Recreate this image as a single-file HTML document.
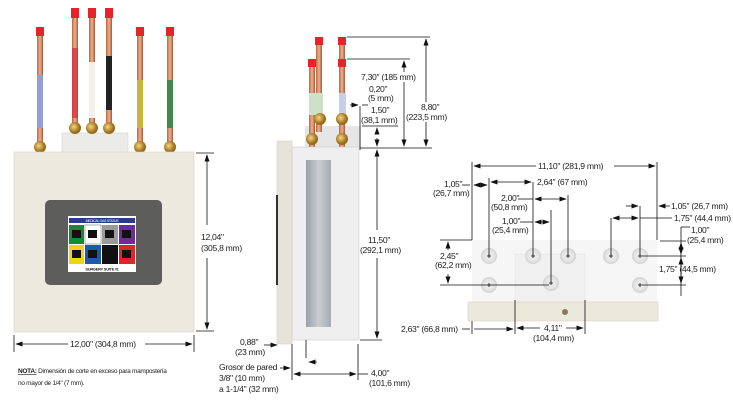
<!DOCTYPE html>
<html><head><meta charset="utf-8"><style>
html,body{margin:0;padding:0;background:#fff;}
svg{display:block;}
text{font-family:"Liberation Sans",sans-serif;font-size:8.6px;fill:#222;letter-spacing:-0.3px;}
.ln{stroke:#111;stroke-width:0.8;fill:none;}
</style></head><body>
<svg width="733" height="400" viewBox="0 0 733 400" xmlns="http://www.w3.org/2000/svg">
<defs>
<marker id="a" viewBox="0 0 10 10" refX="9" refY="5" markerWidth="10" markerHeight="9" orient="auto-start-reverse"><path d="M0,1.5L10,5L0,8.5z" fill="#111"/></marker>
<linearGradient id="cu" x1="0" x2="1"><stop offset="0" stop-color="#b8683f"/><stop offset=".5" stop-color="#f0b090"/><stop offset="1" stop-color="#a45a35"/></linearGradient>
<radialGradient id="br" cx=".4" cy=".4"><stop offset="0" stop-color="#f5d67a"/><stop offset="1" stop-color="#9a6a1a"/></radialGradient>
<radialGradient id="hole" cx=".5" cy=".5"><stop offset="0" stop-color="#f2f2f2"/><stop offset=".7" stop-color="#e3e3e3"/><stop offset="1" stop-color="#d0d0d0"/></radialGradient>
<linearGradient id="rail" x1="0" x2="1"><stop offset="0" stop-color="#9aa0a6"/><stop offset=".5" stop-color="#c9cdd1"/><stop offset="1" stop-color="#a6abb0"/></linearGradient>
</defs>

<g>
<rect x="62" y="133" width="66" height="20" fill="#ebebe9" stroke="#ccc" stroke-width=".5"/>
<rect x="37" y="27" width="6" height="118" fill="url(#cu)"/><rect x="36" y="27" width="8" height="9" fill="#e8222a"/>
<rect x="37" y="75" width="6" height="53" fill="#fff"/><rect x="37" y="75" width="6" height="53" fill="#3a4fb0" opacity=".55"/>
<rect x="72" y="8" width="6" height="125" fill="url(#cu)"/><rect x="71" y="8" width="8" height="10" fill="#e8222a"/>
<rect x="72" y="48" width="6" height="70" fill="#d8373a" opacity=".8"/>
<rect x="89" y="8" width="6" height="125" fill="url(#cu)"/><rect x="88" y="8" width="8" height="10" fill="#e8222a"/>
<rect x="89" y="62" width="6" height="56" fill="#f4f0ec"/>
<rect x="106" y="8" width="6" height="125" fill="url(#cu)"/><rect x="105" y="8" width="8" height="10" fill="#e8222a"/>
<rect x="106" y="56" width="6" height="54" fill="#222"/>
<rect x="137" y="27" width="6" height="118" fill="url(#cu)"/><rect x="136" y="27" width="8" height="9" fill="#e8222a"/>
<rect x="137" y="80" width="6" height="48" fill="#c7b43a"/>
<rect x="167" y="27" width="6" height="118" fill="url(#cu)"/><rect x="166" y="27" width="8" height="9" fill="#e8222a"/>
<rect x="167" y="80" width="6" height="48" fill="#3f8a4a"/>
<ellipse cx="40" cy="147" rx="6" ry="6" fill="url(#br)"/>
<ellipse cx="75" cy="128" rx="6" ry="6" fill="url(#br)"/>
<ellipse cx="92" cy="128" rx="6" ry="6" fill="url(#br)"/>
<ellipse cx="109" cy="128" rx="6" ry="6" fill="url(#br)"/>
<ellipse cx="140" cy="147" rx="6" ry="6" fill="url(#br)"/>
<ellipse cx="170" cy="147" rx="6" ry="6" fill="url(#br)"/>
</g>
<rect x="14" y="152" width="180" height="180" fill="#ece9df" stroke="#d8d4c8" stroke-width=".6"/>
<rect x="45" y="200" width="117" height="85" rx="5" fill="#5d5d5b"/>
<rect x="68" y="216" width="68" height="56" fill="#fff"/>
<rect x="69" y="218" width="66" height="5" fill="#2a3b8a"/>
<rect x="69" y="225" width="15" height="19" fill="#178a3a"/><rect x="85" y="225" width="16" height="19" fill="#fff" stroke="#333" stroke-width=".4"/><rect x="102" y="225" width="16" height="19" fill="#9a9a9a"/><rect x="119" y="225" width="16" height="19" fill="#6a2e9a"/>
<rect x="69" y="245" width="15" height="19" fill="#f0d21a"/><rect x="85" y="245" width="16" height="19" fill="#1d5aa8"/><rect x="102" y="245" width="16" height="19" fill="#111"/><rect x="119" y="245" width="16" height="19" fill="#e0242a"/>
<rect x="72" y="230" width="9" height="8" fill="#111"/><rect x="88" y="230" width="9" height="8" fill="#111"/><rect x="105" y="230" width="9" height="8" fill="#111"/><rect x="122" y="230" width="9" height="8" fill="#111"/>
<rect x="72" y="250" width="9" height="8" fill="#111"/><rect x="88" y="250" width="9" height="8" fill="#111"/><rect x="105" y="250" width="9" height="8" fill="#111"/><rect x="122" y="250" width="9" height="8" fill="#111"/>
<rect x="69" y="265" width="66" height="6" fill="#fff"/>
<text x="102" y="270.5" text-anchor="middle" style="font-size:4px;font-weight:bold">SURGERY SUITE #1</text>
<text x="102" y="222" text-anchor="middle" style="font-size:3.5px;fill:#fff">MEDICAL GAS STATUS</text>

<line class="ln" x1="196" y1="153" x2="214" y2="153"/><line class="ln" x1="196" y1="331" x2="214" y2="331"/>
<line class="ln" x1="207" y1="155" x2="207" y2="225" marker-start="url(#a)"/><line class="ln" x1="207" y1="258" x2="207" y2="329" marker-end="url(#a)"/>
<text x="201" y="240">12,04"</text><text x="201" y="251">(305,8 mm)</text>
<line class="ln" x1="14" y1="335" x2="14" y2="352"/><line class="ln" x1="194" y1="335" x2="194" y2="352"/>
<line class="ln" x1="16" y1="344" x2="68" y2="344" marker-start="url(#a)"/><line class="ln" x1="145" y1="344" x2="192" y2="344" marker-end="url(#a)"/>
<text x="70" y="347">12,00" (304,8 mm)</text>
<text x="18" y="373" style="font-size:6.5px"><tspan style="font-weight:bold;text-decoration:underline">NOTA:</tspan> Dimensión de corte en exceso para mampostería</text>
<text x="18" y="385" style="font-size:6.5px">no mayor de 1/4" (7 mm).</text>

<rect x="305" y="126" width="56" height="22" fill="#e6e6e6"/>
<rect x="316" y="37" width="6" height="95" fill="url(#cu)"/><rect x="315" y="37" width="8" height="8" fill="#e8222a"/>
<rect x="339" y="37" width="6" height="95" fill="url(#cu)"/><rect x="338" y="37" width="8" height="8" fill="#e8222a"/>
<rect x="309" y="59" width="6" height="90" fill="url(#cu)"/><rect x="308" y="59" width="8" height="8" fill="#e8222a"/>
<rect x="339" y="59" width="6" height="90" fill="url(#cu)"/><rect x="338" y="59" width="8" height="8" fill="#e8222a"/>
<rect x="309" y="93" width="14" height="22" fill="#cfe0c8"/><rect x="339" y="93" width="7" height="22" fill="#c9cfe6"/>
<ellipse cx="320" cy="119" rx="6" ry="6" fill="url(#br)"/><ellipse cx="342" cy="119" rx="6" ry="6" fill="url(#br)"/>
<ellipse cx="312" cy="139" rx="6" ry="6" fill="url(#br)"/><ellipse cx="342" cy="139" rx="6" ry="6" fill="url(#br)"/>
<rect x="292" y="147" width="67" height="193" fill="#efefef" stroke="#ccc" stroke-width=".6"/>
<rect x="306" y="160" width="25" height="167" fill="url(#rail)"/>
<rect x="277" y="141" width="15" height="203" fill="#e6e3d8" stroke="#cfcbbd" stroke-width=".5"/>
<rect x="276" y="195" width="2" height="90" fill="#333"/>
<line class="ln" x1="347" y1="37" x2="430" y2="37"/><line class="ln" x1="347" y1="59" x2="410" y2="59"/>
<line class="ln" x1="360" y1="148" x2="432" y2="148"/>
<line class="ln" x1="426" y1="39" x2="426" y2="102" marker-start="url(#a)"/><line class="ln" x1="426" y1="122" x2="426" y2="146" marker-end="url(#a)"/>
<text x="421" y="110">8,80"</text><text x="406" y="120">(223,5 mm)</text>
<line class="ln" x1="404" y1="61" x2="404" y2="72" marker-start="url(#a)"/><line class="ln" x1="404" y1="82" x2="404" y2="146" marker-end="url(#a)"/>
<text x="361" y="80">7,30" (185 mm)</text>
<text x="369" y="92">0,20"</text><text x="368" y="101">(5 mm)</text>
<line class="ln" x1="360" y1="106" x2="360" y2="150"/>
<line class="ln" x1="350" y1="105" x2="358" y2="105" marker-end="url(#a)"/><line class="ln" x1="362" y1="105" x2="368" y2="105"/>
<text x="371" y="113">1,50"</text><text x="361" y="123">(38,1 mm)</text>
<line class="ln" x1="362" y1="126" x2="398" y2="126"/>
<line class="ln" x1="377" y1="128" x2="377" y2="134" marker-start="url(#a)"/><line class="ln" x1="377" y1="138" x2="377" y2="146" marker-end="url(#a)"/>
<line class="ln" x1="360" y1="340" x2="382" y2="340"/>
<line class="ln" x1="377" y1="150" x2="377" y2="230" marker-start="url(#a)"/><line class="ln" x1="377" y1="258" x2="377" y2="338" marker-end="url(#a)"/>
<text x="368" y="243">11,50"</text><text x="360" y="253">(292,1 mm)</text>
<line class="ln" x1="292" y1="344" x2="292" y2="380"/><line class="ln" x1="306" y1="340" x2="306" y2="358"/><line class="ln" x1="358" y1="344" x2="358" y2="380"/>
<line class="ln" x1="294" y1="374" x2="356" y2="374" marker-start="url(#a)" marker-end="url(#a)"/>
<line class="ln" x1="358" y1="374" x2="368" y2="374"/>
<text x="371" y="376">4,00"</text><text x="369" y="386">(101,6 mm)</text>
<line class="ln" x1="264" y1="345" x2="277" y2="345" marker-end="url(#a)"/><line class="ln" x1="317" y1="362" x2="309" y2="362" marker-end="url(#a)"/>
<text x="240" y="345">0,88"</text><text x="235" y="355">(23 mm)</text>
<line class="ln" x1="280" y1="368" x2="290" y2="368" marker-end="url(#a)"/>
<text x="219" y="370">Grosor de pared</text><text x="219" y="381">3/8" (10 mm)</text><text x="219" y="392">a 1-1/4" (32 mm)</text>

<rect x="472" y="240" width="185" height="63" fill="#f6f6f6"/>
<rect x="515" y="254" width="70" height="48" fill="#f0f0f0" stroke="#e2e2e2" stroke-width=".5"/>
<rect x="468" y="302" width="190" height="19" fill="#ebe8dc" stroke="#d2cec0" stroke-width=".5"/>
<circle cx="565" cy="312" r="3" fill="#8a7a5a"/>
<g fill="url(#hole)">
<circle cx="489" cy="256" r="8"/><circle cx="533" cy="256" r="8"/><circle cx="568" cy="256" r="8"/><circle cx="611" cy="256" r="8"/><circle cx="640" cy="256" r="8"/>
<circle cx="489" cy="285" r="8"/><circle cx="551" cy="283" r="8"/><circle cx="640" cy="285" r="8"/></g>
<g class="ln">
<path d="M487,256h4M489,254v4M531,256h4M533,254v4M566,256h4M568,254v4M609,256h4M611,254v4M638,256h4M640,254v4M487,285h4M489,283v4M549,283h4M551,281v4M638,285h4M640,283v4"/>
</g>
<line class="ln" x1="472" y1="162" x2="472" y2="240"/><line class="ln" x1="657" y1="162" x2="657" y2="240"/>
<line class="ln" x1="474" y1="166" x2="536" y2="166" marker-start="url(#a)"/><line class="ln" x1="614" y1="166" x2="655" y2="166" marker-end="url(#a)"/>
<text x="538" y="169">11,10" (281,9 mm)</text>
<line class="ln" x1="489" y1="178" x2="489" y2="256"/><line class="ln" x1="533" y1="182" x2="533" y2="256"/><line class="ln" x1="568" y1="195" x2="568" y2="256"/><line class="ln" x1="551" y1="210" x2="551" y2="283"/>
<text x="444" y="187">1,05"</text><text x="433" y="196">(26,7 mm)</text>
<line class="ln" x1="462" y1="185" x2="470" y2="185"/>
<line class="ln" x1="474" y1="185" x2="487" y2="185" marker-start="url(#a)" marker-end="url(#a)"/>
<line class="ln" x1="491" y1="182" x2="531" y2="182" marker-start="url(#a)" marker-end="url(#a)"/>
<text x="537" y="185">2,64" (67 mm)</text>
<text x="501" y="201">2,00"</text><text x="491" y="210">(50,8 mm)</text>
<line class="ln" x1="518" y1="199" x2="533" y2="199"/>
<line class="ln" x1="535" y1="199" x2="566" y2="199" marker-start="url(#a)" marker-end="url(#a)"/>
<text x="502" y="224">1,00"</text><text x="492" y="233">(25,4 mm)</text>
<line class="ln" x1="520" y1="222" x2="533" y2="222"/>
<line class="ln" x1="535" y1="222" x2="549" y2="222" marker-start="url(#a)" marker-end="url(#a)"/>
<line class="ln" x1="640" y1="206" x2="640" y2="256"/><line class="ln" x1="611" y1="218" x2="611" y2="256"/>
<line class="ln" x1="626" y1="206" x2="638" y2="206" marker-end="url(#a)"/>
<line class="ln" x1="670" y1="206" x2="659" y2="206" marker-end="url(#a)"/>
<text x="671" y="209">1,05" (26,7 mm)</text>
<line class="ln" x1="613" y1="218" x2="638" y2="218" marker-start="url(#a)" marker-end="url(#a)"/>
<line class="ln" x1="640" y1="218" x2="672" y2="218"/>
<text x="674" y="221">1,75" (44,4 mm)</text>
<line class="ln" x1="681" y1="227" x2="690" y2="227"/><line class="ln" x1="681" y1="227" x2="681" y2="296"/>
<line class="ln" x1="660" y1="241" x2="686" y2="241"/>
<text x="691" y="233">1,00"</text><text x="687" y="243">(25,4 mm)</text>
<line class="ln" x1="681" y1="243" x2="681" y2="254" marker-start="url(#a)" marker-end="url(#a)"/>
<line class="ln" x1="642" y1="256" x2="686" y2="256"/><line class="ln" x1="642" y1="285" x2="686" y2="285"/>
<line class="ln" x1="681" y1="258" x2="681" y2="283" marker-start="url(#a)" marker-end="url(#a)"/>
<text x="659" y="272">1,75" (44,5 mm)</text>
<line class="ln" x1="440" y1="240" x2="472" y2="240"/><line class="ln" x1="440" y1="285" x2="549" y2="285"/>
<line class="ln" x1="448" y1="250" x2="448" y2="242" marker-end="url(#a)"/><line class="ln" x1="448" y1="274" x2="448" y2="283" marker-end="url(#a)"/>
<text x="440" y="259">2,45"</text><text x="435" y="268">(62,2 mm)</text>
<line class="ln" x1="472" y1="321" x2="472" y2="334"/><line class="ln" x1="515" y1="300" x2="515" y2="334"/><line class="ln" x1="585" y1="300" x2="585" y2="334"/>
<line class="ln" x1="462" y1="329" x2="470" y2="329"/><line class="ln" x1="474" y1="329" x2="513" y2="329" marker-end="url(#a)"/>
<text x="401" y="332">2,63" (66,8 mm)</text>
<line class="ln" x1="517" y1="328" x2="540" y2="328" marker-start="url(#a)"/><line class="ln" x1="566" y1="328" x2="583" y2="328" marker-end="url(#a)"/>
<text x="544" y="331">4,11"</text><text x="533" y="341">(104,4 mm)</text>
</svg>
</body></html>
